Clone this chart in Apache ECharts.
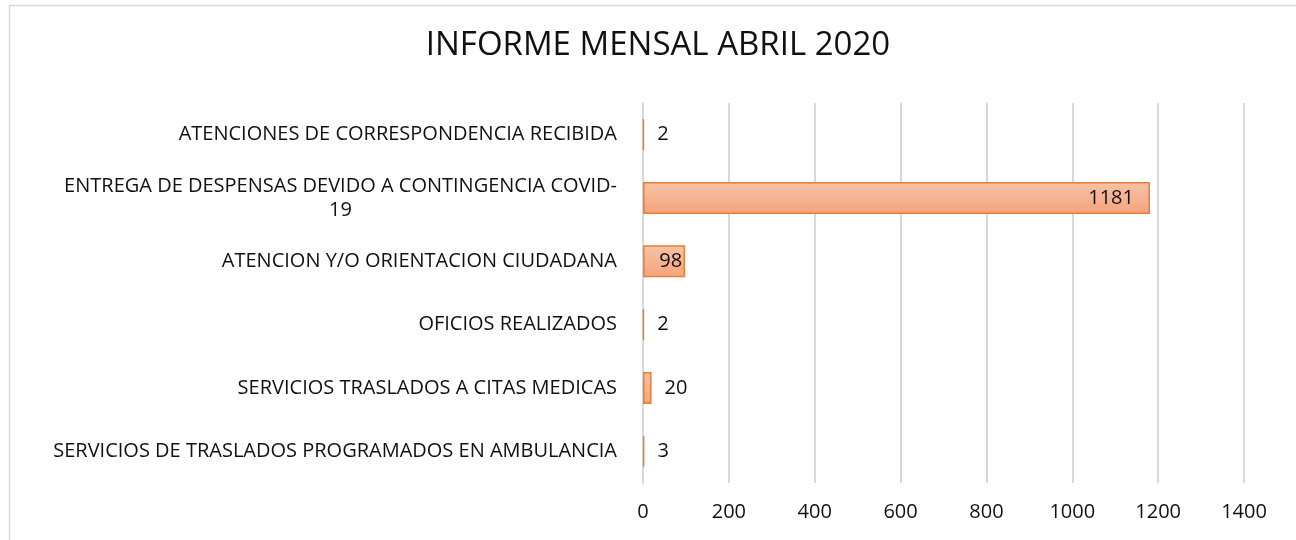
<!DOCTYPE html>
<html>
<head>
<meta charset="utf-8">
<script src="https://cdn.jsdelivr.net/npm/echarts@6/dist/echarts.min.js"></script>
<style>
  html, body { margin: 0; padding: 0; background: #fff; }
  #chart { width: 1296px; height: 540px; }
</style>
</head>
<body>
<div id="chart"></div>
<script>
// categories, top to bottom
const categories = [
  'ATENCIONES DE CORRESPONDENCIA RECIBIDA',
  'ENTREGA DE DESPENSAS DEVIDO A CONTINGENCIA COVID-\n19',
  'ATENCION Y/O ORIENTACION CIUDADANA',
  'OFICIOS REALIZADOS',
  'SERVICIOS TRASLADOS A CITAS MEDICAS',
  'SERVICIOS DE TRASLADOS PROGRAMADOS EN AMBULANCIA'
];
const values = [2, 1181, 98, 2, 20, 3];
const xTicks = [0, 200, 400, 600, 800, 1000, 1200, 1400];

const FONT = 'Open Sans';
const TXT = '#111';
const FS = 20;
const chart = echarts.init(document.getElementById('chart'));

// labels go inside the bar end when the bar is wide enough
const seriesData = values.map(v => {
  if (v >= 50) {
    return {
      value: v,
      label: { position: 'insideRight', distance: v > 500 ? 16 : 3 }
    };
  }
  return { value: v };
});

chart.setOption({
  animation: false,
  graphic: [{
    type: 'rect',
    shape: { x: 9.5, y: 5.5, width: 1400, height: 700 },
    style: { fill: 'none', stroke: '#d9d9d9', lineWidth: 1.5 },
    silent: true
  }],
  title: {
    text: 'INFORME MENSAL ABRIL 2020',
    left: 653,
    textAlign: 'center',
    top: 24,
    textStyle: { fontFamily: FONT, fontSize: 33, fontWeight: 'normal', color: TXT }
  },
  grid: { left: 643, right: 52, top: 103, bottom: 57, containLabel: false },
  xAxis: {
    type: 'value',
    min: xTicks[0],
    max: xTicks[xTicks.length - 1],
    interval: 200,
    axisLine: { show: false },
    axisTick: { show: false },
    splitLine: { lineStyle: { color: '#d9d9d9', width: 2 } },
    axisLabel: {
      fontFamily: FONT, fontSize: FS, color: TXT, margin: 19,
      formatter: v => String(v)
    }
  },
  yAxis: {
    type: 'category',
    inverse: true,
    data: categories,
    axisLine: { show: true, lineStyle: { color: '#d9d9d9', width: 2 } },
    axisTick: { show: false },
    axisLabel: {
      fontFamily: FONT, fontSize: FS, color: TXT, margin: 26, lineHeight: 24,
      formatter: function (val) {
        const parts = val.split('\n');
        if (parts.length === 1) return val;
        return parts[0] + '\n{c|' + parts[1] + '}';
      },
      rich: {
        c: { align: 'center', fontFamily: FONT, fontSize: FS, color: TXT, lineHeight: 24 }
      }
    }
  },
  series: [{
    type: 'bar',
    data: seriesData,
    barWidth: 32,
    itemStyle: {
      color: new echarts.graphic.LinearGradient(0, 0, 0, 1, [
        { offset: 0, color: '#f7c2a6' },
        { offset: 1, color: '#f4a47c' }
      ]),
      borderColor: '#ed7d31',
      borderWidth: 1.5
    },
    label: {
      show: true,
      position: 'right',
      distance: 13,
      fontFamily: FONT,
      fontSize: FS,
      color: TXT
    }
  }]
});
</script>
</body>
</html>
